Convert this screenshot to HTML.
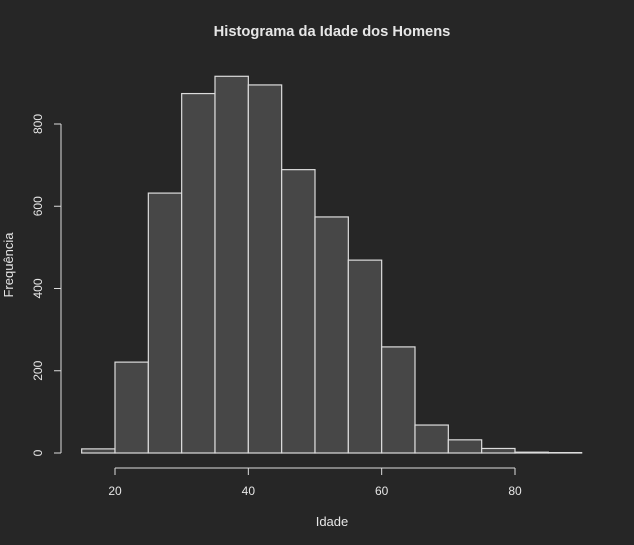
<!DOCTYPE html>
<html><head><meta charset="utf-8"><style>
html,body{margin:0;padding:0;background:#262626;}
svg{display:block;font-family:"Liberation Sans",sans-serif;}
</style></head><body>
<svg id="c" width="634" height="545">
<rect width="634" height="545" fill="#262626"/>
<text x="332" y="36" text-anchor="middle" fill="#e6e6e6" font-size="14.7" font-weight="bold">Histograma da Idade dos Homens</text>
<text x="332" y="526" text-anchor="middle" fill="#e6e6e6" font-size="13">Idade</text>
<text transform="translate(13,265) rotate(-90)" text-anchor="middle" fill="#e6e6e6" font-size="13">Frequência</text>
<g id="bars"></g><g id="axes"></g>
</svg>
<script>
const binStarts=[15,20,25,30,35,40,45,50,55,60,65,70,75,80,85];
const counts=[10,221,632,874,916,895,689,574,469,258,68,32,11,2,1];
const xTicks=[20,40,60,80];
const yTicks=[0,200,400,600,800];
const binWidth=5;
const NS="http://www.w3.org/2000/svg";
const xs=v=>115+(v-20)*(400/60);
const ys=v=>453-v*(329/800);
function mk(t,a,p){const e=document.createElementNS(NS,t);for(const k in a)e.setAttribute(k,a[k]);p.appendChild(e);return e;}
const bars=document.getElementById('bars'),axes=document.getElementById('axes');
binStarts.forEach((b,i)=>{
  const r=mk('rect',{x:xs(b),y:ys(counts[i]),width:xs(b+binWidth)-xs(b),height:ys(0)-ys(counts[i]),fill:'#474747',stroke:'#dcdcdc','stroke-width':1.2},bars);
  
  
});
const xa=mk('line',{x1:xs(xTicks[0]),x2:xs(xTicks[xTicks.length-1]),y1:468,y2:468,stroke:'#dcdcdc'},axes);


xTicks.forEach(t=>{
  mk('line',{x1:xs(t),x2:xs(t),y1:468,y2:475,stroke:'#dcdcdc'},axes);
  const l=mk('text',{x:xs(t),y:495,'text-anchor':'middle',fill:'#e6e6e6','font-size':12},axes);
  l.textContent=t;
  
  
});
const ya=mk('line',{x1:61,x2:61,y1:ys(yTicks[0]),y2:ys(yTicks[yTicks.length-1]),stroke:'#dcdcdc'},axes);


yTicks.forEach(t=>{
  mk('line',{x1:54,x2:61,y1:ys(t),y2:ys(t),stroke:'#dcdcdc'},axes);
  const l=mk('text',{transform:`translate(42,${ys(t)}) rotate(-90)`,'text-anchor':'middle',fill:'#e6e6e6','font-size':12},axes);
  l.textContent=t;
  
  
});
</script>
</body></html>
